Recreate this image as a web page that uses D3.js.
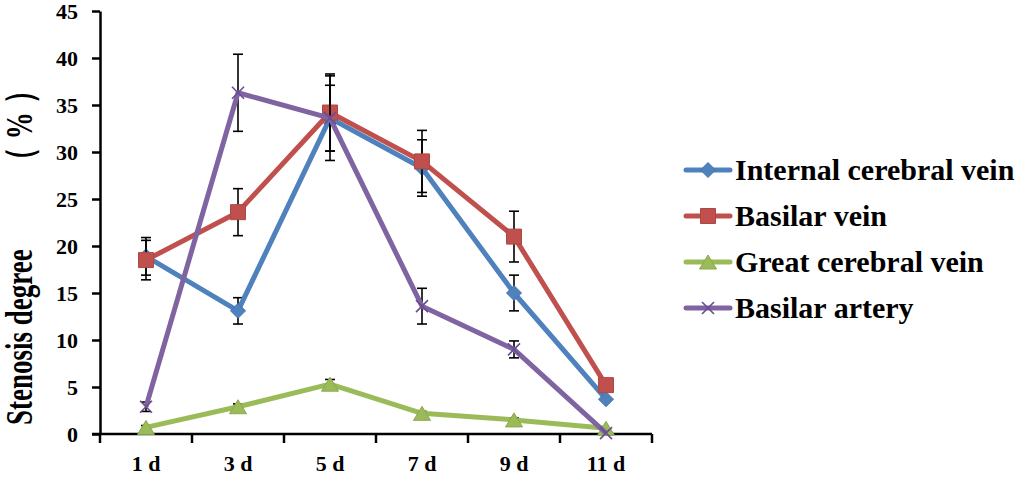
<!DOCTYPE html>
<html>
<head>
<meta charset="utf-8">
<script src="https://cdn.jsdelivr.net/npm/d3@7"></script>
<style>
  html, body { margin: 0; padding: 0; background: #fff; }
  svg { display: block; }
  text { font-family: "Liberation Serif", "Times New Roman", "DejaVu Serif", serif; font-weight: bold; fill: #000; }
</style>
</head>
<body>
<svg id="chart" width="1021" height="477"></svg>
<script>
const categories = ["1 d", "3 d", "5 d", "7 d", "9 d", "11 d"];
const yTicks = [0, 5, 10, 15, 20, 25, 30, 35, 40, 45];

const icv    = [18.9, 13.1, 33.6, 28.3, 15.0, 3.7];
const icvErr = [2.0, 1.4, 3.5, 3.0, 1.9, 0];
const bv     = [18.5, 23.6, 34.2, 29.0, 21.0, 5.2];
const bvErr  = [2.1, 2.5, 4.1, 3.3, 2.7, 0];
const gcv    = [0.7, 2.9, 5.3, 2.2, 1.5, 0.6];
const gcvErr = [0.2, 0.3, 0.5, 0.2, 0.2, 0];
const ba     = [2.9, 36.3, 33.6, 13.6, 9.0, 0.1];
const baErr  = [0.5, 4.1, 4.5, 1.9, 0.9, 0];

const seriesNames = ["Internal cerebral vein", "Basilar vein", "Great cerebral vein", "Basilar artery"];

const series = [
  { name: seriesNames[0], values: icv, err: icvErr, color: "#4F81BD", marker: "diamond" },
  { name: seriesNames[1], values: bv,  err: bvErr,  color: "#C0504D", marker: "square" },
  { name: seriesNames[2], values: gcv, err: gcvErr, color: "#9BBB59", marker: "triangle" },
  { name: seriesNames[3], values: ba,  err: baErr,  color: "#8064A2", marker: "x" }
];

const FONT = '"Liberation Serif", "Times New Roman", "DejaVu Serif", serif';
const svg = d3.select("#chart");
const mLeft = 100, mRight = 652, mTop = 11, mBottom = 434;

const x = d3.scaleBand().domain(categories).range([mLeft, mRight]);
const y = d3.scaleLinear().domain([0, 45]).range([mBottom, mTop]);
const cx = d => x(d) + x.bandwidth() / 2;

// Y axis
const yAxis = svg.append("g").attr("transform", `translate(${mLeft},0)`)
  .call(d3.axisLeft(y).tickValues(yTicks).tickSize(8).tickSizeOuter(0).tickPadding(14));
yAxis.attr("font-family", FONT).attr("font-size", 22);
yAxis.select(".domain").attr("stroke", "#000").attr("stroke-width", 2.5);
yAxis.selectAll(".tick line").attr("stroke", "#000").attr("stroke-width", 2.5);
yAxis.selectAll(".tick text").attr("font-family", FONT).attr("font-size", 22)
  .attr("font-weight", "bold").attr("dy", "0.34em");

// X axis
const xAxis = svg.append("g").attr("transform", `translate(0,${mBottom})`)
  .call(d3.axisBottom(x).tickSize(0).tickPadding(21));
xAxis.attr("font-family", FONT).attr("font-size", 22);
xAxis.select(".domain").remove();
xAxis.selectAll(".tick text").attr("font-family", FONT).attr("font-size", 22)
  .attr("font-weight", "bold");
svg.append("line").attr("x1", mLeft - 8).attr("x2", mRight)
  .attr("y1", mBottom).attr("y2", mBottom)
  .attr("stroke", "#000").attr("stroke-width", 2.5);
const bounds = categories.map(c => x(c)).concat([x(categories[categories.length - 1]) + x.step()]);
svg.append("g").selectAll("line").data(bounds).join("line")
  .attr("x1", d => d).attr("x2", d => d)
  .attr("y1", mBottom).attr("y2", mBottom + 9)
  .attr("stroke", "#000").attr("stroke-width", 2.5);

// Y label
const yl = svg.append("text")
  .attr("transform", "translate(32,425) rotate(-90) scale(1,1.4)")
  .attr("text-anchor", "start")
  .attr("font-family", FONT)
  .attr("font-size", 27);
yl.append("tspan").text("Stenosis degree");
yl.append("tspan").attr("dx", 75).attr("letter-spacing", 8).text("（%）");

function markerPath(type, s) {
  if (type === "diamond") { const r = 7.5 * s; return `M0,${-r}L${r},0L0,${r}L${-r},0Z`; }
  if (type === "square") { const r = 7.5 * s; return `M${-r},${-r}H${r}V${r}H${-r}Z`; }
  if (type === "triangle") { const w = 8.5 * s, h = 7 * s; return `M0,${-h}L${w},${h}L${-w},${h}Z`; }
  const r = 6 * s; return `M${-r},${-r}L${r},${r}M${-r},${r}L${r},${-r}`;
}

function drawMarker(g, type, color, s) {
  if (type === "x") {
    g.append("path").attr("d", markerPath(type, s)).attr("fill", "none")
      .attr("stroke", "#6A4C93").attr("stroke-width", 1.6);
  } else {
    g.append("path").attr("d", markerPath(type, s)).attr("fill", color)
      .attr("stroke", d3.color(color).darker(0.3)).attr("stroke-width", 1);
  }
}

const line = d3.line().x(d => cx(d.c)).y(d => y(d.v));

series.forEach(s => {
  const pts = categories.map((c, i) => ({ c, v: s.values[i], e: s.err[i] }));
  const g = svg.append("g");
  const eb = g.append("g").selectAll("g").data(pts.filter(p => p.e > 0)).join("g");
  eb.append("line").attr("x1", d => cx(d.c)).attr("x2", d => cx(d.c))
    .attr("y1", d => y(d.v + d.e)).attr("y2", d => y(d.v - d.e))
    .attr("stroke", "#000").attr("stroke-width", 1.6);
  [1, -1].forEach(sg => {
    eb.append("line").attr("x1", d => cx(d.c) - 5).attr("x2", d => cx(d.c) + 5)
      .attr("y1", d => y(d.v + sg * d.e)).attr("y2", d => y(d.v + sg * d.e))
      .attr("stroke", "#000").attr("stroke-width", 1.6);
  });
  g.append("path").datum(pts).attr("d", line).attr("fill", "none")
    .attr("stroke", s.color).attr("stroke-width", 5).attr("stroke-linejoin", "round");
  pts.forEach(p => {
    const mg = g.append("g").attr("transform", `translate(${cx(p.c)},${y(p.v)})`);
    drawMarker(mg, s.marker, s.color, 1);
  });
});

// Legend
const lg = svg.append("g");
series.forEach((s, i) => {
  const yy = 170 + i * 46;
  lg.append("line").attr("x1", 686).attr("x2", 730).attr("y1", yy).attr("y2", yy)
    .attr("stroke", s.color).attr("stroke-width", 5).attr("stroke-linecap", "round");
  const mg = lg.append("g").attr("transform", `translate(708,${yy})`);
  drawMarker(mg, s.marker, s.color, 1);
  lg.append("text").attr("x", 735).attr("y", yy + 10)
    .attr("font-family", FONT).attr("font-size", 30).attr("font-weight", "bold").text(s.name);
});
</script>
</body>
</html>
